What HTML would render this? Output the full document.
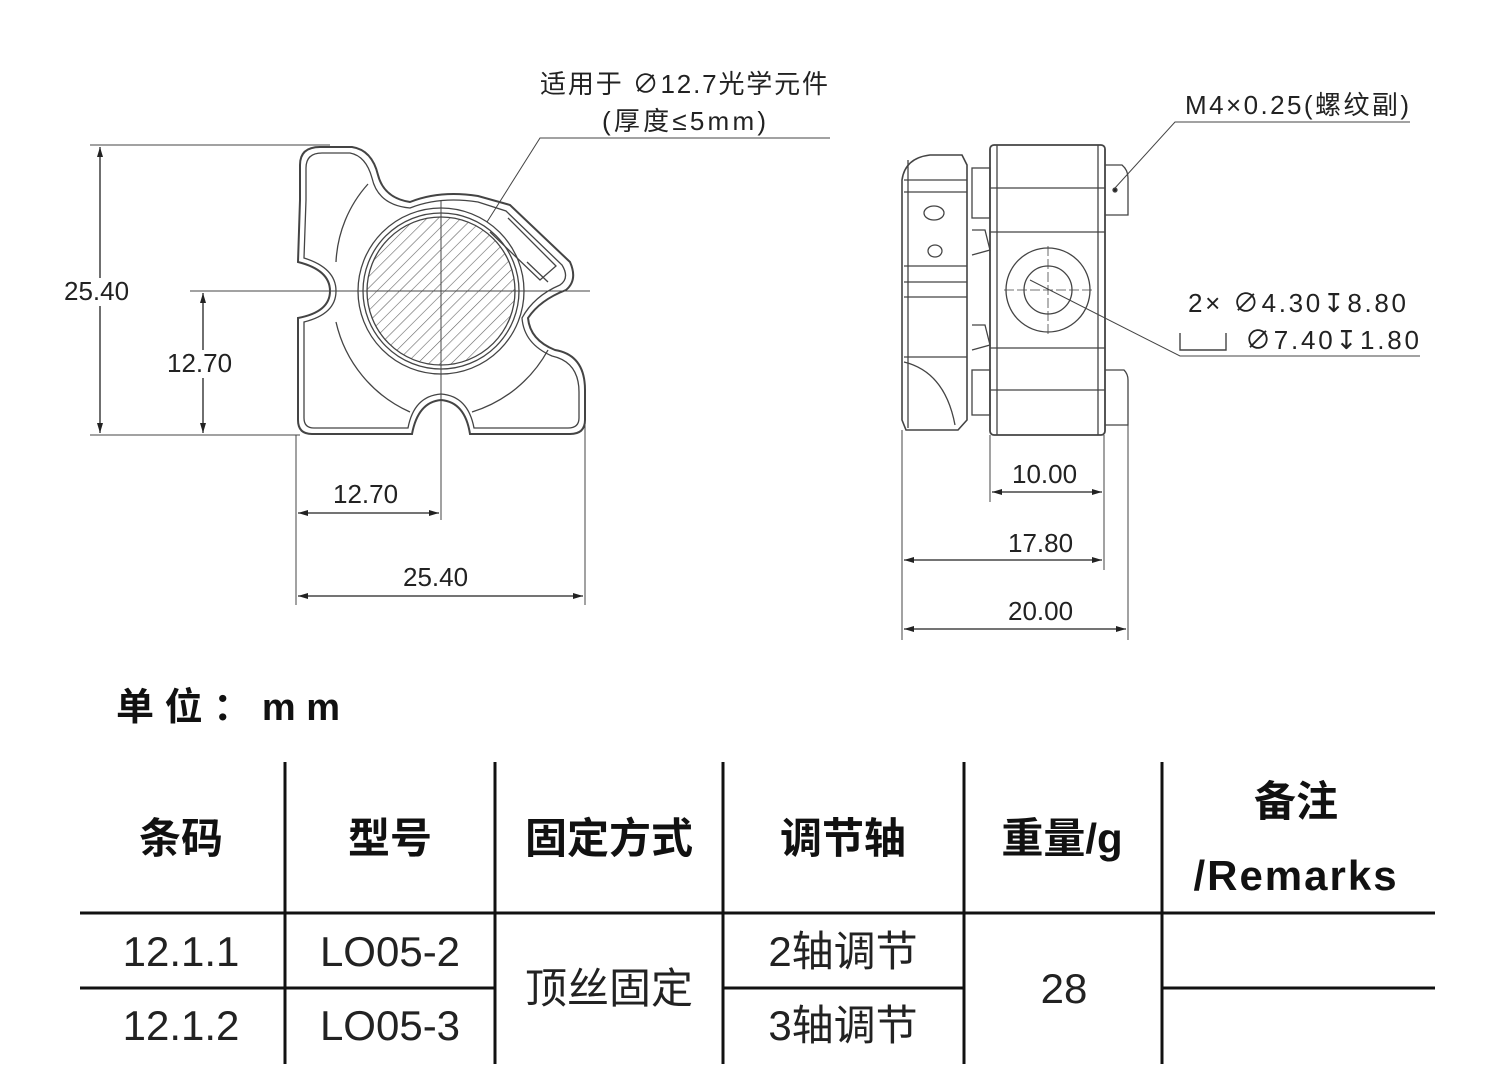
<!DOCTYPE html>
<html><head><meta charset="utf-8"><style>
html,body{margin:0;padding:0;background:#fff;}
svg{display:block;}
.t{font-family:"Liberation Sans","Noto Sans CJK SC",sans-serif;fill:#222;}
.b{font-weight:bold;fill:#111;}
</style></head><body>
<svg width="1500" height="1084" viewBox="0 0 1500 1084" xmlns="http://www.w3.org/2000/svg">
<defs>
<marker id="a" viewBox="0 0 10 6" refX="10" refY="3" markerWidth="14" markerHeight="6" orient="auto-start-reverse" markerUnits="userSpaceOnUse"><path d="M0,0 L10,3 L0,6z" fill="#222"/></marker>
<pattern id="h" width="8" height="8" patternUnits="userSpaceOnUse" patternTransform="rotate(45)"><line x1="0" y1="0" x2="0" y2="8" stroke="#666" stroke-width="1.2"/></pattern>
<clipPath id="lc"><circle cx="441" cy="291" r="74"/></clipPath>
</defs>
<g stroke="#444" fill="none" stroke-width="1.3">
<path d="M300,200 L300,165 Q300,147 320,147 L352,147 Q372,150 378,175 Q384,198 410,202 Q440,190 478,196 L510,205 L570,262 Q578,280 566,290 Q540,300 528,318 Q530,340 555,350 Q585,355 585,390 L585,420 Q585,434 570,434 L470,434 Q465,402 441,400 Q418,402 412,434 L312,434 Q298,434 298,420 L298,318 Q330,312 330,291 Q330,270 298,262 Z" stroke-width="2"/>
<path d="M306,200 L306,168 Q306,153 322,153 L350,153 Q366,156 372,178 Q378,205 410,208 Q440,196 478,202 L506,211 L562,265 Q570,278 560,285 Q534,296 522,318 Q524,344 552,356 Q579,362 579,392 L579,418 Q579,428 568,428 L474,428 Q468,396 441,394 Q414,396 408,428 L314,428 Q304,428 304,418 L304,322 Q336,314 336,291 Q336,268 304,258 Z"/>
<path d="M368,184 A125,125 0 0 0 336,262" />
<path d="M336,322 A130,130 0 0 0 410,412"/>
<path d="M472,412 A130,130 0 0 0 548,350"/>
<circle cx="441" cy="291" r="83"/>
<circle cx="441" cy="291" r="78"/>
<rect x="364" y="217" width="154" height="148" fill="url(#h)" clip-path="url(#lc)" stroke="none"/>
<circle cx="441" cy="291" r="74"/>
<path d="M490,232 L540,280 L556,266 L508,218"/>
<path d="M527,262 L548,282" />
<line x1="190" y1="291" x2="590" y2="291" stroke-width="1"/>
<line x1="441" y1="200" x2="441" y2="520" stroke-width="1"/>
<line x1="90" y1="145" x2="330" y2="145" stroke-width="1"/>
<line x1="90" y1="435" x2="300" y2="435" stroke-width="1"/>
<line x1="100" y1="147" x2="100" y2="433" stroke="#222" marker-start="url(#a)" marker-end="url(#a)"/>
<line x1="203" y1="293" x2="203" y2="433" stroke="#222" marker-start="url(#a)" marker-end="url(#a)"/>
<line x1="296" y1="435" x2="296" y2="605" stroke-width="1"/>
<line x1="585" y1="410" x2="585" y2="605" stroke-width="1"/>
<line x1="298" y1="513" x2="439" y2="513" stroke="#222" marker-start="url(#a)" marker-end="url(#a)"/>
<line x1="298" y1="596" x2="583" y2="596" stroke="#222" marker-start="url(#a)" marker-end="url(#a)"/>
<polyline points="487,222 540,138 830,138" stroke-width="1"/>
<path d="M902,180 Q905,158 930,155 L962,155 L967,165 L967,420 L958,430 L906,430 L902,420 Z" stroke-width="1.6"/>
<line x1="908" y1="160" x2="908" y2="428"/>
<line x1="904" y1="180" x2="967" y2="180"/><line x1="904" y1="192" x2="967" y2="192"/>
<line x1="904" y1="266" x2="967" y2="266"/><line x1="904" y1="282" x2="967" y2="282"/><line x1="904" y1="297" x2="967" y2="297"/>
<line x1="904" y1="357" x2="967" y2="357"/>
<path d="M904,362 Q945,372 955,425"/>
<ellipse cx="934" cy="213" rx="10" ry="7"/><ellipse cx="935" cy="251" rx="7" ry="6"/>
<rect x="972" y="168" width="18" height="50"/>
<rect x="972" y="370" width="18" height="45"/>
<path d="M972,230 L985,230 L990,250 L972,255"/><path d="M972,325 L985,325 L990,345 L972,350"/>
<rect x="990" y="145" width="115" height="290" rx="4" stroke-width="1.8"/>
<line x1="997" y1="145" x2="997" y2="435"/><line x1="1098" y1="145" x2="1098" y2="435"/>
<line x1="990" y1="188" x2="1105" y2="188"/><line x1="990" y1="232" x2="1105" y2="232"/>
<line x1="990" y1="348" x2="1105" y2="348"/><line x1="990" y1="390" x2="1105" y2="390"/>
<circle cx="1048" cy="290" r="42"/><circle cx="1048" cy="290" r="24"/>
<line x1="1004" y1="290" x2="1092" y2="290" stroke-width="0.8" stroke-dasharray="10 3"/>
<line x1="1048" y1="246" x2="1048" y2="334" stroke-width="0.8" stroke-dasharray="10 3"/>
<path d="M1105,165 L1122,165 Q1128,170 1128,178 L1128,215 L1105,215"/>
<circle cx="1115" cy="190" r="2" fill="#222"/>
<path d="M1105,370 L1124,370 Q1128,374 1128,380 L1128,425 L1105,425"/>
<polyline points="1115,188 1175,122 1410,122" stroke-width="1"/>
<polyline points="1030,280 1180,356 1420,356" stroke-width="1"/>
<polyline points="1180,333 1180,350 1226,350 1226,333" stroke-width="1.4"/>
<line x1="902" y1="430" x2="902" y2="640" stroke-width="1"/>
<line x1="1128" y1="425" x2="1128" y2="640" stroke-width="1"/>
<line x1="990" y1="435" x2="990" y2="502" stroke-width="1"/>
<line x1="1104" y1="435" x2="1104" y2="570" stroke-width="1"/>
<line x1="992" y1="492" x2="1102" y2="492" stroke="#222" marker-start="url(#a)" marker-end="url(#a)"/>
<line x1="904" y1="560" x2="1102" y2="560" stroke="#222" marker-start="url(#a)" marker-end="url(#a)"/>
<line x1="904" y1="629" x2="1126" y2="629" stroke="#222" marker-start="url(#a)" marker-end="url(#a)"/>
</g>
<rect x="64" y="278" width="72" height="28" fill="#fff"/>
<rect x="166" y="350" width="72" height="28" fill="#fff"/>
<g class="t" font-size="26">
<text x="64" y="300">25.40</text>
<text x="167" y="372">12.70</text>
<text x="333" y="503">12.70</text>
<text x="403" y="586">25.40</text>
<text x="540" y="93" textLength="288">适用于 ∅12.7光学元件</text>
<text x="602" y="130" textLength="164">(厚度≤5mm)</text>
<text x="1185" y="114" textLength="224">M4×0.25(螺纹副)</text>
<text x="1188" y="312" textLength="218">2× ∅4.30↧8.80</text>
<text x="1245" y="349" textLength="174">∅7.40↧1.80</text>
<text x="1012" y="483">10.00</text>
<text x="1008" y="552">17.80</text>
<text x="1008" y="620">20.00</text>
</g>
<text class="t b" x="116" y="720" font-size="38" textLength="224">单位：mm</text>
<g stroke="#111" stroke-width="3">
<line x1="285" y1="762" x2="285" y2="1064"/><line x1="495" y1="762" x2="495" y2="1064"/>
<line x1="723" y1="762" x2="723" y2="1064"/><line x1="964" y1="762" x2="964" y2="1064"/>
<line x1="1162" y1="762" x2="1162" y2="1064"/>
<line x1="80" y1="913" x2="1435" y2="913"/>
<line x1="80" y1="988" x2="495" y2="988"/><line x1="723" y1="988" x2="964" y2="988"/><line x1="1162" y1="988" x2="1435" y2="988"/>
</g>
<g class="t b" font-size="42" text-anchor="middle">
<text x="181" y="853">条码</text><text x="390" y="853">型号</text><text x="609" y="853">固定方式</text>
<text x="843" y="853">调节轴</text><text x="1062" y="853">重量/g</text>
<text x="1296" y="816">备注</text><text x="1296" y="890" letter-spacing="2">/Remarks</text>
</g>
<g class="t" font-size="42" text-anchor="middle">
<text x="181" y="966">12.1.1</text><text x="390" y="966">LO05-2</text>
<text x="181" y="1040">12.1.2</text><text x="390" y="1040">LO05-3</text>
<text x="609" y="1003">顶丝固定</text>
<text x="843" y="966">2轴调节</text><text x="843" y="1040">3轴调节</text>
<text x="1064" y="1003">28</text>
</g>
</svg>
</body></html>
